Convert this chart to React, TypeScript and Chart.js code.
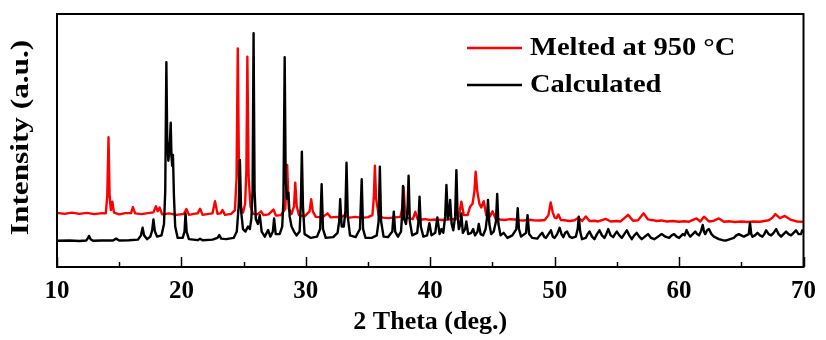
import React, { useEffect, useRef } from "react";
import { Chart, registerables } from "chart.js";

Chart.register(...registerables);

// ---- Data: [2θ (deg), intensity (a.u.)] ----
const meltedPattern: [number, number][] = [
  [10.0, 21.4], [10.6, 21.0], [11.2, 21.5], [11.8, 21.0], [12.4, 21.4], [13.0, 20.9], [13.6, 21.3], [13.92, 21.2],
  [14.04, 28], [14.14, 51.3], [14.23, 28], [14.33, 22.5], [14.45, 25.8], [14.58, 21.5], [15.0, 20.8], [15.5, 21.3],
  [15.95, 21.3], [16.1, 23.7], [16.28, 21.2], [16.8, 20.9], [17.3, 21.3], [17.75, 21.6], [17.95, 24], [18.1, 22],
  [18.25, 23.5], [18.45, 20.8], [19.0, 21.2], [19.6, 20.6], [20.2, 21], [20.4, 22.9], [20.6, 20.6], [21.0, 21],
  [21.3, 21.2], [21.5, 23], [21.7, 20.6], [22.2, 21], [22.5, 21.2], [22.7, 26], [22.9, 21], [23.15, 21.2],
  [23.3, 22.5], [23.5, 20.6], [24.0, 21], [24.3, 22.5], [24.43, 35], [24.53, 86.4], [24.63, 36], [24.78, 23.5],
  [24.95, 21.5], [25.12, 25], [25.22, 38], [25.3, 83.1], [25.4, 36], [25.55, 24], [25.75, 21], [26.1, 20.8],
  [26.4, 22], [26.6, 20.5], [27.0, 20.8], [27.4, 22.7], [27.6, 20.3], [28.0, 20.5], [28.35, 23], [28.5, 40.3],
  [28.63, 23], [28.85, 21], [29.05, 24], [29.15, 33.3], [29.27, 24], [29.45, 20.5], [29.9, 20], [30.3, 22],
  [30.43, 26.8], [30.56, 22], [30.8, 19.8], [31.3, 19.6], [31.75, 21.2], [32.0, 19.6], [32.5, 19.8], [32.8, 19.5],
  [33.1, 20.5], [33.5, 19.5], [34.0, 19.8], [34.5, 19.4], [35.0, 19.7], [35.35, 20.5], [35.46, 27], [35.55, 40],
  [35.65, 27], [35.85, 20.5], [36.2, 19.5], [36.6, 19.3], [37.2, 19.6], [37.6, 19.8], [37.78, 24], [37.86, 31.5],
  [37.95, 24], [38.15, 19.4], [38.6, 18.9], [38.8, 21.8], [39.0, 18.7], [39.6, 18.9], [40.0, 18.6], [40.4, 18.8],
  [41.0, 18.6], [41.6, 18.9], [42.1, 19], [42.3, 20], [42.5, 25.8], [42.7, 20.5], [43.0, 20.5], [43.2, 23.8],
  [43.4, 25], [43.55, 30], [43.65, 37.7], [43.78, 30], [43.95, 25], [44.1, 23.5], [44.3, 26], [44.5, 20.5],
  [44.8, 20], [45.0, 22], [45.25, 19.2], [45.6, 18.8], [46.0, 18.6], [46.4, 18.9], [46.8, 18.8], [47.2, 18.5],
  [47.5, 18.4], [48.0, 18.7], [48.3, 18.5], [48.8, 18.4], [49.2, 18.6], [49.5, 20.5], [49.68, 25.5], [49.85, 21.5],
  [50.0, 19.5], [50.15, 19.3], [50.3, 20.7], [50.5, 18.6], [50.8, 18.5], [51.2, 18.2], [51.6, 18.5], [51.9, 19.5],
  [52.2, 18.2], [52.5, 20], [52.8, 18.2], [53.2, 18.3], [53.5, 18], [54.1, 19], [54.5, 18], [55.0, 18.2],
  [55.3, 18], [55.9, 20.6], [56.3, 18.3], [56.7, 18.5], [57.15, 21.2], [57.5, 18.8], [57.9, 18.5], [58.2, 18.2],
  [58.6, 18.4], [59.0, 18], [59.5, 18.2], [60.0, 17.9], [60.4, 18.1], [60.8, 17.9], [61.4, 19.2], [61.7, 18],
  [62.0, 19.9], [62.4, 18], [62.8, 18.3], [63.2, 19.2], [63.6, 17.9], [64.0, 18.1], [64.5, 17.8], [65.0, 18],
  [65.5, 17.8], [66.0, 18], [66.5, 17.9], [67.2, 18.5], [67.5, 19.5], [67.74, 20.9], [68.1, 19.3], [68.5, 20.2],
  [69.0, 18.6], [69.5, 18], [70.0, 17.9],
];

const calculatedPattern: [number, number][] = [
  [10.0, 10.4], [11.0, 10.5], [11.8, 10.3], [12.35, 10.5], [12.5, 11.5], [12.58, 12.3], [12.7, 11], [12.9, 10.4],
  [13.6, 10.5], [14.5, 10.5], [14.75, 11.2], [15.0, 10.5], [15.8, 10.6], [16.5, 10.8], [16.75, 12.5], [16.88, 15.5],
  [17.0, 12.5], [17.25, 11], [17.5, 12], [17.65, 14.5], [17.75, 18.8], [17.87, 14], [18.05, 12], [18.4, 12.5],
  [18.6, 17], [18.7, 30], [18.79, 80.9], [18.86, 50], [18.95, 42], [19.04, 46], [19.14, 57], [19.2, 44],
  [19.26, 40], [19.32, 44.3], [19.4, 28], [19.5, 16], [19.7, 11.5], [20.1, 11.5], [20.25, 14], [20.33, 21.2],
  [20.42, 14], [20.6, 11], [21.3, 10.6], [21.5, 11.2], [21.7, 10.6], [22.5, 10.8], [22.9, 11.5], [23.04, 12.6],
  [23.2, 11.2], [23.6, 11], [24.2, 11.5], [24.45, 14], [24.6, 24], [24.7, 42.3], [24.8, 22], [24.95, 15],
  [25.15, 14], [25.35, 16], [25.5, 15], [25.62, 19], [25.72, 30], [25.8, 92.4], [25.88, 30], [25.98, 19],
  [26.15, 17], [26.3, 20.5], [26.45, 14], [26.7, 12], [26.97, 14.6], [27.15, 12], [27.35, 14], [27.45, 19.2],
  [27.58, 13], [27.9, 13], [28.1, 16], [28.2, 26], [28.3, 82.9], [28.38, 35], [28.48, 27], [28.6, 29.4],
  [28.7, 20], [28.85, 16], [29.05, 14], [29.25, 12.5], [29.5, 14], [29.6, 25], [29.68, 45.6], [29.77, 24],
  [29.9, 13], [30.4, 11.5], [30.9, 12], [31.15, 15], [31.27, 32.7], [31.38, 15], [31.6, 11.5], [32.2, 11.8],
  [32.55, 13.5], [32.68, 18], [32.76, 26.8], [32.88, 16], [33.05, 16], [33.18, 22], [33.27, 41.2], [33.37, 20],
  [33.55, 12.5], [34.0, 11.8], [34.35, 15], [34.49, 34.7], [34.6, 15], [34.8, 11.5], [35.3, 11.5], [35.7, 12.5],
  [35.85, 18], [35.95, 39.6], [36.05, 18], [36.25, 12], [36.6, 11.8], [36.95, 14], [37.07, 21.9], [37.18, 14],
  [37.4, 12], [37.65, 14], [37.73, 20], [37.81, 32], [37.9, 19], [38.05, 17], [38.17, 22], [38.26, 36.1],
  [38.36, 18], [38.55, 12.5], [38.95, 13.5], [39.05, 18], [39.14, 27.8], [39.24, 16], [39.45, 12], [39.75, 12.5],
  [39.93, 17.3], [40.1, 12.5], [40.4, 13.5], [40.57, 19.6], [40.75, 13], [40.9, 15], [41.05, 13.5], [41.2, 20],
  [41.3, 32.4], [41.42, 19], [41.52, 21], [41.6, 26.5], [41.72, 17], [41.85, 14.5], [42.0, 20], [42.1, 38.3],
  [42.2, 20], [42.3, 15], [42.42, 17], [42.5, 21.2], [42.62, 13.5], [42.8, 15], [42.9, 18], [43.05, 13],
  [43.3, 13.5], [43.45, 15], [43.6, 12.5], [43.8, 14], [43.9, 17], [44.05, 13], [44.25, 12.5], [44.45, 15],
  [44.55, 19], [44.64, 26.5], [44.75, 17], [44.9, 13], [45.1, 14], [45.28, 18], [45.38, 28.9], [45.48, 17],
  [45.65, 12.5], [45.9, 13.5], [46.2, 11.5], [46.6, 12.5], [46.92, 15], [47.03, 23.2], [47.13, 15], [47.3, 12],
  [47.7, 13.5], [47.82, 20.5], [47.95, 13], [48.2, 11.5], [48.6, 11.2], [48.8, 12.5], [49.0, 13.5], [49.15, 12],
  [49.3, 11.5], [49.5, 13], [49.7, 14.5], [49.85, 12], [50.0, 11.5], [50.2, 13], [50.4, 15.5], [50.55, 13],
  [50.7, 11.8], [50.85, 13.5], [51.0, 14], [51.2, 12], [51.4, 11.5], [51.7, 12], [51.85, 15], [51.94, 19.9],
  [52.05, 14], [52.2, 11], [52.5, 11.5], [52.65, 13], [52.8, 14], [53.0, 12], [53.2, 11], [53.4, 13],
  [53.6, 14.5], [53.8, 12.5], [54.0, 11.5], [54.15, 13], [54.3, 15], [54.5, 12.5], [54.7, 11.8], [54.85, 13],
  [55.0, 14], [55.2, 12.5], [55.4, 11.5], [55.6, 13], [55.8, 14.5], [56.0, 12.5], [56.2, 11], [56.4, 12.5],
  [56.6, 13.5], [56.8, 12], [57.0, 11], [57.25, 12], [57.5, 13], [57.75, 11.5], [58.0, 11], [58.3, 12],
  [58.6, 13], [58.9, 12], [59.2, 11.5], [59.4, 12.5], [59.6, 13], [59.8, 12], [60.0, 11.5], [60.3, 13],
  [60.45, 12.5], [60.6, 14.6], [60.75, 13], [60.9, 12], [61.1, 13], [61.3, 14], [61.45, 13], [61.6, 12.5],
  [61.75, 14], [61.9, 16.6], [62.0, 14], [62.1, 13], [62.25, 14.5], [62.4, 15], [62.6, 13], [62.8, 12],
  [63.0, 11.5], [63.2, 11], [63.5, 10.6], [63.8, 10.5], [64.1, 11], [64.4, 11.5], [64.6, 12.5], [64.8, 13],
  [65.0, 12.5], [65.2, 12], [65.4, 12.5], [65.6, 13], [65.7, 17.5], [65.8, 13], [65.9, 12], [66.1, 12.5],
  [66.3, 13.5], [66.5, 12.5], [66.7, 12], [66.85, 13], [67.0, 14.5], [67.2, 13], [67.4, 12.5], [67.6, 13.5],
  [67.8, 15], [68.0, 13], [68.2, 12], [68.4, 13], [68.6, 14], [68.8, 13], [69.0, 12.5], [69.2, 13.5],
  [69.4, 14.5], [69.6, 13], [69.8, 13], [69.9, 14.5], [70.0, 14],
];

const seriesLabels = ["Melted at 950 \u00B0C", "Calculated"];
const seriesColors = ["#ff0000", "#000000"];
const majorTicks = [10, 20, 30, 40, 50, 60, 70];
const minorTicks = [15, 25, 35, 45, 55, 65];
const xTitle = "2 Theta (deg.)";
const yTitle = "Intensity (a.u.)";

const FONT_FAMILY = '"Liberation Serif", "Times New Roman", serif';

function toPoints(p: [number, number][]) {
  return p.map(([x, y]) => ({ x, y }));
}

const framePlugin = {
  id: "frame",
  afterDraw(chart: any) {
    const { ctx, chartArea } = chart;
    const { left, right, top, bottom } = chartArea;
    const xs = chart.scales.x;
    ctx.save();
    ctx.strokeStyle = "#000";
    ctx.lineWidth = 2;
    ctx.strokeRect(left, top, right - left, bottom - top);
    ctx.lineWidth = 1.5;
    for (const v of majorTicks) {
      const px = Math.round(xs.getPixelForValue(v)) + 0.5;
      ctx.beginPath();
      ctx.moveTo(px, bottom);
      ctx.lineTo(px, bottom - 10);
      ctx.stroke();
    }
    for (const v of minorTicks) {
      const px = Math.round(xs.getPixelForValue(v)) + 0.5;
      ctx.beginPath();
      ctx.moveTo(px, bottom);
      ctx.lineTo(px, bottom - 5);
      ctx.stroke();
    }
    // y-axis title (stretched along its length like the reference)
    ctx.save();
    ctx.fillStyle = "#000";
    ctx.font = `bold 25px ${FONT_FAMILY}`;
    ctx.textAlign = "center";
    ctx.textBaseline = "middle";
    ctx.translate(22, (top + bottom) / 2 - 3);
    ctx.rotate(-Math.PI / 2);
    ctx.scale(1.25, 1);
    ctx.fillText(yTitle, 0, 0);
    ctx.restore();
    // legend
    const lx0 = left + 410;
    const lx1 = left + 465;
    const tx = left + 473;
    const rows = [top + 34, top + 71];
    ctx.font = `bold 25px ${FONT_FAMILY}`;
    ctx.textBaseline = "middle";
    ctx.textAlign = "left";
    rows.forEach((y, i) => {
      ctx.strokeStyle = seriesColors[i];
      ctx.lineWidth = 2.5;
      ctx.beginPath();
      ctx.moveTo(lx0, y);
      ctx.lineTo(lx1, y);
      ctx.stroke();
      ctx.save();
      ctx.fillStyle = "#000";
      ctx.translate(tx, y + 1);
      ctx.scale(1.14, 1);
      ctx.fillText(seriesLabels[i], 0, 0);
      ctx.restore();
    });
    ctx.restore();
  },
};

export default function App() {
  const ref = useRef<HTMLCanvasElement | null>(null);
  useEffect(() => {
    document.body.style.margin = "0";
    const canvas = ref.current;
    if (!canvas) return;
    const chart = new Chart(canvas, {
      type: "line",
      data: {
        datasets: [
          {
            label: seriesLabels[1],
            data: toPoints(calculatedPattern),
            borderColor: seriesColors[1],
            borderWidth: 2.4,
            borderJoinStyle: "round",
            pointRadius: 0,
            tension: 0,
            order: 0,
          },
          {
            label: seriesLabels[0],
            data: toPoints(meltedPattern),
            borderColor: seriesColors[0],
            borderWidth: 2.4,
            borderJoinStyle: "round",
            pointRadius: 0,
            tension: 0,
            order: 1,
          },
        ],
      },
      options: {
        responsive: false,
        animation: false,
        events: [],
        layout: { padding: { top: 14, right: 16, left: 0, bottom: 0 } },
        plugins: { legend: { display: false }, tooltip: { enabled: false } },
        scales: {
          x: {
            type: "linear",
            min: 10,
            max: 70,
            grid: { display: false, drawTicks: false },
            border: { display: false },
            ticks: {
              stepSize: 10,
              padding: 10,
              color: "#000",
              font: { family: FONT_FAMILY, size: 25, weight: "bold" },
              maxRotation: 0,
            },
            title: {
              display: true,
              text: xTitle,
              color: "#000",
              font: { family: FONT_FAMILY, size: 26, weight: "bold" },
              padding: { top: 0, bottom: 2 },
            },
            afterFit(scale: any) {
              scale.height = 73;
            },
          },
          y: {
            type: "linear",
            min: 0,
            max: 100,
            grid: { display: false, drawTicks: false },
            border: { display: false },
            ticks: { display: false },
            title: { display: false, text: yTitle },
            afterFit(scale: any) {
              scale.width = 57;
            },
          },
        },
      },
      plugins: [framePlugin],
    });
    return () => chart.destroy();
  }, []);
  return (
    <div style={{ width: 826, height: 340, background: "#fff" }}>
      <canvas ref={ref} width={826} height={340} />
    </div>
  );
}
